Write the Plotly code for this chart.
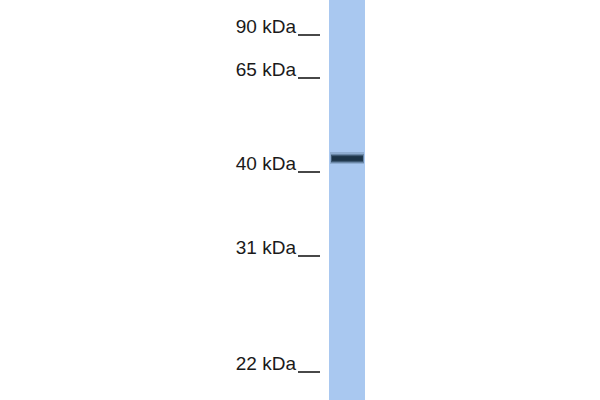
import plotly.graph_objects as go

# ladder markers (kDa) and their migration position down the membrane
ladder_kda = [90, 65, 40, 31, 22]
ladder_pos = [35, 78, 172, 256, 372]
ladder_labels = ["%d kDa" % k for k in ladder_kda]

# sample lane: one detected band
band_pos = [158]
band_strength = [1.0]

LANE_X = 347
LANE_W = 36
MEMBRANE_LEN = 400

fig = go.Figure()

# membrane lane background
fig.add_trace(go.Bar(
    x=[LANE_X], y=[MEMBRANE_LEN + 20], base=[-10], width=[LANE_W],
    marker=dict(color="#a9c8f0", line=dict(width=0)),
    hoverinfo="skip", showlegend=False,
))

# band: layered so the edges fade like a real blot
layers = [(12, 34, 0.18), (9, 33, 0.30), (7, 32, 0.55), (5, 31, 0.85), (3, 30, 1.0)]
for pos, s in zip(band_pos, band_strength):
    for h, w, a in layers:
        fig.add_trace(go.Bar(
            x=[LANE_X], y=[h], base=[pos - h / 2], width=[w],
            marker=dict(color="rgba(28,52,72,%.2f)" % (a * s), line=dict(width=0)),
            hoverinfo="skip", showlegend=False,
        ))

# ladder labels
fig.add_trace(go.Scatter(
    x=[296] * len(ladder_pos), y=[p - 7 for p in ladder_pos],
    mode="text", text=ladder_labels, textposition="middle left",
    textfont=dict(family="Liberation Sans, Arial", size=19, color="#1a1a1a"),
    hoverinfo="skip", showlegend=False,
))

# ladder tick lines
xs, ys = [], []
for p in ladder_pos:
    xs += [298, 320, None]
    ys += [p, p, None]
fig.add_trace(go.Scatter(
    x=xs, y=ys, mode="lines", line=dict(color="#1a1a1a", width=1.6),
    hoverinfo="skip", showlegend=False,
))

fig.update_layout(
    width=600, height=400,
    margin=dict(l=0, r=0, t=0, b=0),
    paper_bgcolor="white", plot_bgcolor="white",
    barmode="overlay", bargap=0,
    xaxis=dict(range=[0, 600], visible=False, fixedrange=True),
    yaxis=dict(range=[MEMBRANE_LEN, 0], visible=False, fixedrange=True),
)

# drop the default body margin so the lane reaches the top edge
fig.write_html("out.html", config={"displayModeBar": False},
               post_script="document.body.style.margin='0';")
